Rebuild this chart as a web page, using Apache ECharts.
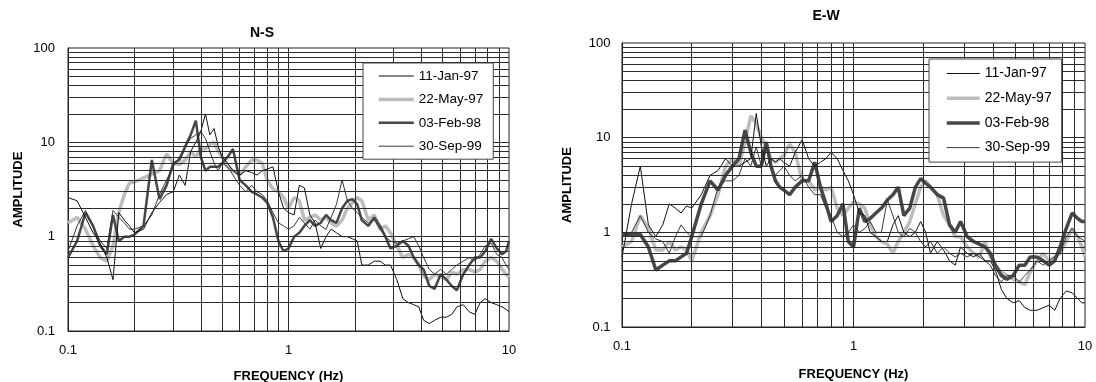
<!DOCTYPE html>
<html>
<head>
<meta charset="utf-8">
<script src="https://cdn.jsdelivr.net/npm/echarts@6/dist/echarts.min.js"></script>
<style>
html,body{margin:0;padding:0;background:#fff;}
#chart{width:1096px;height:382px;}
</style>
</head>
<body>
<div id="chart"></div>
<script>
// ---------- data ----------
const DATES = ['11-Jan-97', '22-May-97', '03-Feb-98', '30-Sep-99'];
const TITLES = ['N-S', 'E-W'];

const FREQ = [0.10,0.11,0.12,0.13,0.14,0.15,0.16,0.17,0.18,0.19,
  0.20,0.22,0.24,0.26,0.28,0.30,0.32,0.34,0.36,0.38,
  0.40,0.42,0.44,0.46,0.48,0.50,0.53,0.56,0.60,0.64,
  0.68,0.72,0.76,0.80,0.85,0.90,0.95,1.0,1.06,1.12,
  1.18,1.25,1.32,1.40,1.48,1.56,1.65,1.75,1.85,1.95,
  2.05,2.15,2.3,2.45,2.6,2.75,2.9,3.1,3.3,3.5,
  3.7,3.9,4.1,4.35,4.6,4.9,5.2,5.5,5.8,6.2,
  6.6,7.0,7.4,7.8,8.3,8.8,9.3,9.7,10];

const NS_JAN97 = [2.6,2.4,1.6,1.1,0.85,0.6,0.35,1.8,1.5,1.3,
  1.1,1.2,1.8,2.3,2.8,3.0,4.5,3.5,8,10,
  13,20,12,14,9,7,6,5,4.5,5,
  4.8,4.5,5,5.2,5.5,3,2.0,1.8,1.7,3.5,
  3.3,1.7,1.4,0.75,1.0,1.2,1.1,1.0,1.0,0.95,
  0.9,0.5,0.5,0.55,0.55,0.5,0.5,0.35,0.22,0.2,
  0.19,0.18,0.13,0.12,0.13,0.14,0.14,0.15,0.18,0.19,
  0.16,0.15,0.2,0.22,0.2,0.19,0.18,0.17,0.16];
const NS_MAY97 = [1.4,1.6,1.2,0.8,0.6,0.55,0.8,1.8,2.8,3.7,
  3.8,4.2,4.6,5.0,7.5,6.0,5.8,6.5,8,7,
  8.5,8.5,9.5,10,8,7,5.5,5,4.5,5.5,
  6.5,6.5,6,4,3.2,3,2.6,2.0,2.6,2.4,
  1.5,1.6,1.7,1.5,1.6,1.4,1.3,1.5,2.0,2.3,
  2.6,2.4,1.5,1.7,1.2,1.3,1.1,0.8,0.6,0.65,
  0.6,0.5,0.38,0.35,0.4,0.38,0.35,0.42,0.4,0.45,
  0.45,0.42,0.45,0.55,0.6,0.55,0.45,0.4,0.37];
const NS_FEB98 = [0.6,0.9,1.8,1.3,0.8,0.65,1.7,0.9,1.0,1.0,
  1.05,1.3,6.5,2.5,3.5,6,6.5,9,12,17,
  7,5,5.5,5.5,5.5,6,7,8.5,4,3.5,
  3,2.8,2.6,2.3,1.6,0.9,0.7,0.75,1.0,1.1,
  1.3,1.5,1.3,1.4,1.7,1.5,1.4,2.0,2.4,2.5,
  2.2,1.5,1.3,1.6,1.3,1.0,0.75,0.8,0.9,0.8,
  0.6,0.5,0.45,0.3,0.28,0.4,0.35,0.3,0.27,0.4,
  0.5,0.6,0.6,0.7,0.95,0.75,0.65,0.7,0.9];
const NS_SEP99 = [0.7,1.3,1.9,1.3,0.9,0.75,1.9,1.6,1.4,1.2,
  1.2,1.3,1.7,2.8,4.0,5.5,7,9,11,12,
  13,11,8,6,5,6,5.5,4.5,3.5,3.0,
  3.5,3.0,2.8,2.4,1.8,1.4,1.3,1.2,1.3,1.6,
  1.4,1.2,1.5,1.3,1.2,1.6,2.2,4.0,2.4,2.0,
  1.8,1.6,1.4,1.5,1.2,1.0,0.9,0.85,0.9,0.95,
  1.0,0.8,0.6,0.45,0.4,0.45,0.4,0.45,0.5,0.55,
  0.6,0.55,0.65,0.8,0.85,0.65,0.6,0.5,0.45];

const EW_JAN97 = [0.55,2.0,5,1.2,0.9,1.2,2.0,1.8,1.6,1.9,
  1.8,2.5,4,4.5,6,5,5,5.5,6,18,
  8,5,6,5.5,6,5.5,5,7,9.5,6,
  5,5.5,6,7,6,4.5,3.5,2.5,1.6,1.5,
  1.0,0.9,0.8,0.8,1.2,1.5,1.0,0.9,1.0,1.3,
  1.0,0.6,0.8,0.65,0.5,0.45,0.7,0.6,0.55,0.6,
  0.5,0.5,0.4,0.25,0.2,0.18,0.19,0.16,0.15,0.15,
  0.16,0.17,0.15,0.2,0.24,0.23,0.2,0.18,0.18];
const EW_MAY97 = [0.7,0.8,1.5,1.1,0.65,0.65,0.8,0.65,0.7,0.65,
  0.5,1.0,1.5,2.5,5,6,5,9,17,14,
  10,8,6,5.5,6,6.5,8.5,7,3.5,3.5,
  2.8,3,2.8,3,1.8,1.5,1.8,2.1,2.0,1.8,
  1.2,0.9,0.8,0.75,0.6,0.8,1.0,1.3,2.0,3.0,
  3.5,3.0,2.5,1.5,1.2,0.9,0.9,0.7,0.6,0.55,
  0.8,0.55,0.45,0.38,0.35,0.32,0.3,0.28,0.38,0.5,
  0.6,0.5,0.55,0.6,0.8,1.1,0.9,0.7,0.55];
const EW_FEB98 = [0.95,0.95,0.95,0.7,0.4,0.45,0.5,0.5,0.55,0.6,
  0.9,2.0,3.5,2.8,4,5,6,12,7,5,
  5,9,5,3.5,3,2.8,2.5,3,3.5,3.5,
  5.5,3,2,1.3,1.5,2,0.8,0.7,1.8,1.3,
  1.4,1.6,1.8,2.2,2.5,3.0,1.5,1.8,3.0,3.7,
  3.3,3.0,2.5,2.3,1.2,1.0,1.3,0.9,0.8,0.75,
  0.7,0.6,0.45,0.35,0.32,0.35,0.45,0.45,0.55,0.55,
  0.5,0.45,0.5,0.7,1.1,1.6,1.4,1.3,1.3];
const EW_SEP99 = [0.9,1.0,1.5,1.0,0.85,0.8,0.6,0.9,1.2,1.0,
  0.9,0.9,1.5,3.0,3.5,3.5,4,6,5,8,
  5,8,5,4,4.5,5,4,3.5,4,3,
  2.5,2.5,1.8,1.5,1.0,0.9,1.0,1.2,1.0,1.1,
  1.3,1.0,1.0,2.2,1.5,1.0,0.9,1.1,1.0,0.8,
  0.7,0.8,0.6,0.7,0.6,0.55,0.6,0.55,0.6,0.55,
  0.5,0.45,0.35,0.3,0.35,0.35,0.3,0.35,0.4,0.5,
  0.45,0.5,0.55,0.6,0.9,1.1,0.9,0.85,0.8];

// gridline values (major + minor log lines)
const X_GRID = [0.2,0.3,0.4,0.5,0.6,0.7,0.8,0.9,1,2,3,4,5,6,7,8,9];
const Y_GRID = [0.2,0.3,0.4,0.5,0.6,0.7,0.8,0.9,1,2,3,4,5,6,7,8,9,10,20,30,40,50,60,70,80,90];

// ---------- chart ----------
const FONT = '"Liberation Sans", Arial, sans-serif';
const pairs = (arr) => FREQ.map((f, i) => [f, arr[i]]);
const STYLE = [
  {color: '#111111', width: 1},
  {color: '#bdbdbd', width: 3.5},
  {color: '#474747', width: 2.5},
  {color: '#3a3a3a', width: 1}
];
const RIGHT_STYLE = [
  {color: '#111111', width: 1},
  {color: '#bdbdbd', width: 3.5},
  {color: '#474747', width: 3.5},
  {color: '#3a3a3a', width: 1}
];
const DRAW_ORDER = [1, 2, 3, 0];
const SETS = [[NS_JAN97, NS_MAY97, NS_FEB98, NS_SEP99], [EW_JAN97, EW_MAY97, EW_FEB98, EW_SEP99]];

const fmt = (v) => v >= 1 ? String(Math.round(v)) : String(+v.toFixed(1));

const grids = [
  {left: 68, top: 48, width: 441, height: 283},
  {left: 622, top: 43, width: 463, height: 284}
];

function axisCommon() {
  return {
    axisLine: {show: true, lineStyle: {color: '#222', width: 1}},
    axisTick: {show: false},
    splitLine: {show: false},
    nameLocation: 'middle',
    nameTextStyle: {fontFamily: FONT, fontWeight: 'bold', fontSize: 13, color: '#000'}
  };
}

const xAxis = [0, 1].map(i => Object.assign(axisCommon(), {
  type: 'log', logBase: 10, min: 0.1, max: 10, gridIndex: i,
  name: 'FREQUENCY (Hz)', nameGap: i === 0 ? 39 : 41,
  axisLabel: {formatter: fmt, margin: 13, fontFamily: FONT, fontSize: 13, color: '#000',
    showMinLabel: true, showMaxLabel: true}
}));
const yAxis = [0, 1].map(i => Object.assign(axisCommon(), {
  type: 'log', logBase: 10, min: 0.1, max: 100, gridIndex: i,
  name: 'AMPLITUDE', nameGap: i === 0 ? 43 : 48,
  axisLabel: {formatter: fmt, margin: i === 0 ? 13 : 11.5, fontFamily: FONT, fontSize: 13, color: '#000',
    showMinLabel: true, showMaxLabel: true}
}));

const series = [];
[0, 1].forEach(g => {
  series.push({
    type: 'line', xAxisIndex: g, yAxisIndex: g, z: 1, silent: true,
    data: [[1, 1]], showSymbol: false, lineStyle: {opacity: 0},
    markLine: {
      silent: true, symbol: 'none', animation: false,
      label: {show: false},
      lineStyle: {color: '#2b2b2b', width: 1, type: 'solid'},
      emphasis: {disabled: true},
      data: X_GRID.map(v => ({xAxis: v})).concat(Y_GRID.map(v => ({yAxis: v})))
    }
  });
  const st = g === 0 ? STYLE : RIGHT_STYLE;
  DRAW_ORDER.forEach(k => {
    series.push({
      type: 'line', name: DATES[k], xAxisIndex: g, yAxisIndex: g, z: 3,
      data: pairs(SETS[g][k]), showSymbol: false, symbol: 'none',
      color: st[k].color,
      lineStyle: {color: st[k].color, width: st[k].width},
      emphasis: {disabled: true}
    });
  });
});

const legendCommon = {
  orient: 'vertical', backgroundColor: '#fff', borderColor: '#444', borderWidth: 1,
  selectedMode: false, z: 10,
  itemStyle: {opacity: 0, borderWidth: 0, color: 'rgba(0,0,0,0)'}
};

const option = {
  animation: false,
  backgroundColor: '#fff',
  title: [
    {text: TITLES[0], left: 262, top: 26, textAlign: 'center', padding: 0,
      textStyle: {fontFamily: FONT, fontWeight: 'bold', fontSize: 14, color: '#000'}},
    {text: TITLES[1], left: 826, top: 9, textAlign: 'center', padding: 0,
      textStyle: {fontFamily: FONT, fontWeight: 'bold', fontSize: 14, color: '#000'}}
  ],
  grid: grids.map(r => Object.assign({show: true, borderColor: '#222', borderWidth: 1,
    backgroundColor: 'transparent', containLabel: false, outerBoundsMode: 'none'}, r)),
  xAxis: xAxis,
  yAxis: yAxis,
  legend: [
    Object.assign({}, legendCommon, {
      left: 363, top: 63, padding: [6, 10, 6, 14], itemWidth: 35, itemHeight: 14, itemGap: 9.4,
      textStyle: {fontFamily: FONT, fontSize: 13.5, color: '#000', lineHeight: 14},
      data: DATES.map((d, k) => ({name: d,
        itemStyle: {opacity: 0, color: 'rgba(0,0,0,0)', borderWidth: 0},
        lineStyle: {color: STYLE[k].color, width: STYLE[k].width, opacity: 1}}))
    }),
    Object.assign({}, legendCommon, {
      left: 929, top: 59, padding: [7, 10, 7, 16], itemWidth: 33, itemHeight: 15, itemGap: 9.7,
      textStyle: {fontFamily: FONT, fontSize: 14, color: '#000', lineHeight: 15},
      data: DATES.map((d, k) => ({name: d,
        itemStyle: {opacity: 0, color: 'rgba(0,0,0,0)', borderWidth: 0},
        lineStyle: {color: RIGHT_STYLE[k].color, width: RIGHT_STYLE[k].width, opacity: 1}}))
    })
  ],
  series: series
};

const chart = echarts.init(document.getElementById('chart'), null, {renderer: 'canvas'});
chart.setOption(option);
</script>
</body>
</html>
